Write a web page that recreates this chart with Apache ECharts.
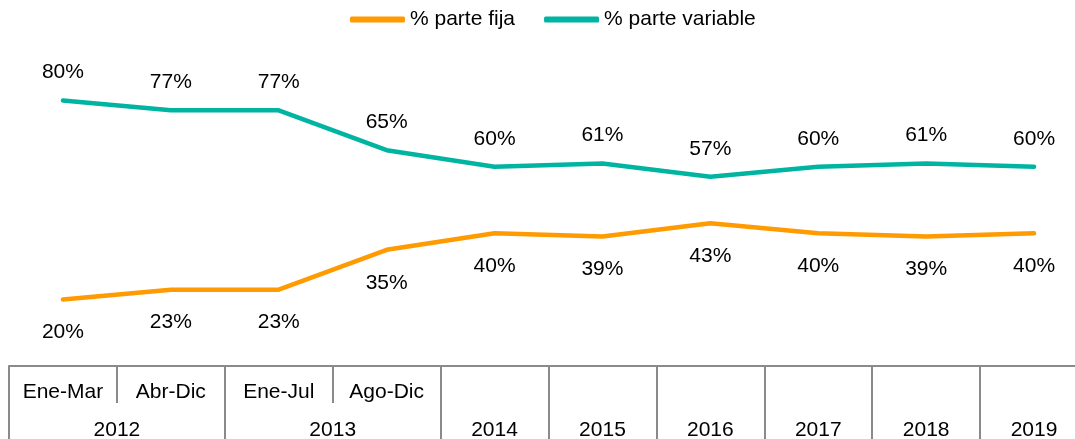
<!DOCTYPE html>
<html>
<head>
<meta charset="utf-8">
<script src="https://cdn.jsdelivr.net/npm/echarts@6/dist/echarts.min.js"></script>
<style>
  html, body { margin: 0; padding: 0; background: #fff; }
  #chart { width: 1075px; height: 439px; }
</style>
</head>
<body>
<div id="chart"></div>
<script>
// 数据
const periods = ['Ene-Mar', 'Abr-Dic', 'Ene-Jul', 'Ago-Dic', '', '', '', '', '', '']
const years = ['2012', '2012', '2013', '2013', '2014', '2015', '2016', '2017', '2018', '2019']
const parteFija = [20, 23, 23, 35, 40, 39, 43, 40, 39, 40]
const parteVariable = [80, 77, 77, 65, 60, 61, 57, 60, 61, 60]

const FONT = '"Liberation Sans", Arial, sans-serif'
const FS = 21
const LINE_GRAY = '#8a8a8a'

// 年份分组：边界与中心
const yearTicks = [0]
const yearLabels = []
const yearNames = {}
let start = 0
for (let i = 1; i <= years.length; i++) {
    if (i === years.length || years[i] !== years[start]) {
        yearTicks.push(i)
        const mid = (start + i) / 2
        yearLabels.push(mid)
        yearNames[mid] = years[start]
        start = i
    }
}

const chart = echarts.init(document.getElementById('chart'))

const option = {
    animation: false,
    textStyle: { fontFamily: FONT },
    legend: {
        top: 4,
        left: 345,
        icon: 'roundRect',
        itemWidth: 55,
        itemHeight: 6,
        itemGap: 29,
        textStyle: { fontSize: FS, color: '#000', fontFamily: FONT },
        data: ['% parte fija', '% parte variable']
    },
    grid: {
        left: 9,
        right: -13,
        top: 34,
        bottom: 73,
        outerBoundsMode: 'none'
    },
    xAxis: [
        {
            type: 'category',
            data: periods,
            boundaryGap: true,
            axisLine: { show: true, lineStyle: { color: LINE_GRAY, width: 2 } },
            axisTick: { show: true, interval: 0, length: 37, lineStyle: { color: LINE_GRAY, width: 2 } },
            axisLabel: { interval: 0, margin: 16, fontSize: FS, color: '#000', fontFamily: FONT },
            splitLine: { show: false }
        },
        {
            type: 'value',
            min: 0,
            max: years.length,
            position: 'bottom',
            axisLine: { show: false },
            axisTick: {
                show: true,
                customValues: yearTicks,
                length: 80,
                lineStyle: { color: LINE_GRAY, width: 2 }
            },
            axisLabel: {
                customValues: yearLabels,
                margin: 54,
                fontSize: FS,
                color: '#000',
                fontFamily: FONT,
                formatter: (v) => yearNames[v] || ''
            },
            splitLine: { show: false }
        }
    ],
    yAxis: {
        type: 'value',
        min: 0,
        max: 100,
        show: false
    },
    series: [
        {
            name: '% parte fija',
            type: 'line',
            xAxisIndex: 0,
            data: parteFija,
            symbol: 'circle',
            symbolSize: 1,
            color: '#ff9a00',
            lineStyle: { width: 4.5, color: '#ff9a00', cap: 'round' },
            label: {
                show: true,
                position: 'bottom',
                distance: 22,
                formatter: '{c}%',
                fontSize: FS,
                color: '#000',
                fontFamily: FONT
            }
        },
        {
            name: '% parte variable',
            type: 'line',
            xAxisIndex: 0,
            data: parteVariable,
            symbol: 'circle',
            symbolSize: 1,
            color: '#00b4a2',
            lineStyle: { width: 4.5, color: '#00b4a2', cap: 'round' },
            label: {
                show: true,
                position: 'top',
                distance: 17,
                formatter: '{c}%',
                fontSize: FS,
                color: '#000',
                fontFamily: FONT
            }
        }
    ]
}

chart.setOption(option)
</script>
</body>
</html>
